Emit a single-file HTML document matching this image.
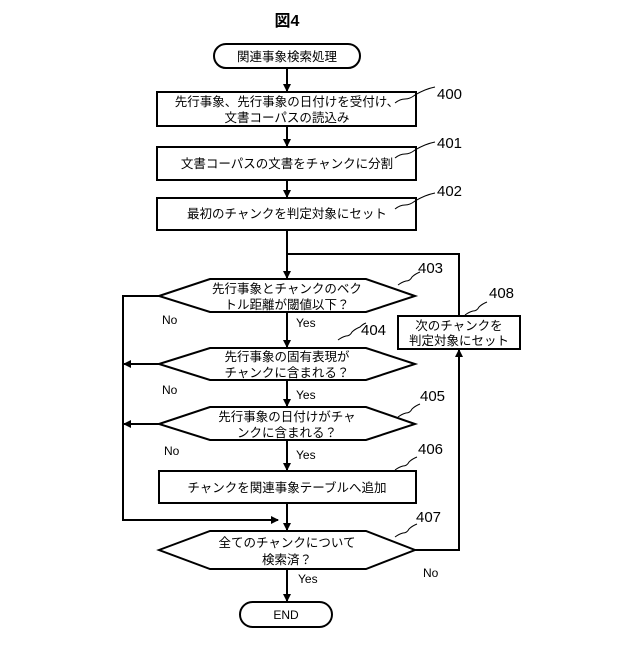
<!DOCTYPE html>
<html><head><meta charset="utf-8"><style>
body{margin:0;background:#fff;}
svg text{font-family:"Liberation Sans","Noto Sans CJK JP",sans-serif;fill:#000;}
</style></head><body>
<svg width="640" height="640" viewBox="0 0 640 640" xmlns="http://www.w3.org/2000/svg">
<defs><marker id="a" markerWidth="8" markerHeight="8" refX="7" refY="4" orient="auto" markerUnits="userSpaceOnUse"><path d="M0,0 L8,4 L0,8 z" fill="#000"/></marker></defs>
<g stroke="#000" stroke-width="2" fill="none">
<text x="287" y="26" font-size="16" text-anchor="middle" stroke="none" font-weight="bold">図4</text>
<rect x="214" y="44" width="146" height="24" rx="12"/>
<line x1="287" y1="68" x2="287" y2="91" marker-end="url(#a)"/>
<rect x="157" y="92" width="259" height="34"/>
<line x1="287" y1="126" x2="287" y2="146" marker-end="url(#a)"/>
<rect x="157" y="147" width="259" height="33"/>
<line x1="287" y1="180" x2="287" y2="197" marker-end="url(#a)"/>
<rect x="157" y="198" width="259" height="32"/>
<line x1="287" y1="230" x2="287" y2="278" marker-end="url(#a)"/>
<polyline points="459,316 459,254 287,254"/>
<polygon points="159,296 210,279 366,279 415,296 366,312 210,312"/>
<line x1="287" y1="312" x2="287" y2="347" marker-end="url(#a)"/>
<polygon points="159,364 210,348 366,348 415,364 366,380 210,380"/>
<line x1="287" y1="380" x2="287" y2="406" marker-end="url(#a)"/>
<polygon points="159,424 210,407 366,407 415,424 366,440 210,440"/>
<line x1="287" y1="440" x2="287" y2="470" marker-end="url(#a)"/>
<rect x="159" y="471" width="257" height="32"/>
<line x1="287" y1="503" x2="287" y2="530" marker-end="url(#a)"/>
<polyline points="159,296 123,296 123,520 278,520" marker-end="url(#a)"/>
<line x1="159" y1="364" x2="124" y2="364" marker-end="url(#a)"/>
<line x1="159" y1="424" x2="124" y2="424" marker-end="url(#a)"/>
<polygon points="159,550 210,531 366,531 415,550 366,569 210,569"/>
<polyline points="415,550 459,550 459,350" marker-end="url(#a)"/>
<rect x="398" y="316" width="122" height="33"/>
<line x1="287" y1="569" x2="287" y2="601" marker-end="url(#a)"/>
<rect x="240" y="602" width="92" height="25" rx="12.5"/>
<g stroke-width="1">
<path d="M395,103 q5,-4 10,-4 q5,0 10,-4 q5,-3 10,-5 q5,-2 10,-3"/>
<path d="M395,158 q5,-4 10,-4 q5,0 10,-4 q5,-3 10,-5 q5,-2 10,-3"/>
<path d="M395,209 q5,-4 10,-4 q5,0 10,-4 q5,-3 10,-5 q5,-2 10,-3"/>
<path d="M398,285 q4,-3 8,-4 q4,0 6,-4 q3,-3 8,-5"/>
<path d="M338,340 q4,-3 8,-4 q4,0 6,-4 q3,-3 8,-5 q3,-3 6,-4"/>
<path d="M398,417 q4,-3 8,-4 q4,0 6,-4 q3,-3 8,-5"/>
<path d="M395,470 q4,-3 8,-4 q4,0 6,-4 q3,-3 8,-5"/>
<path d="M395,537 q4,-3 8,-4 q4,0 6,-4 q3,-3 8,-5"/>
<path d="M465,315 q4,-3 8,-4 q4,0 6,-4 q3,-3 8,-5"/>
</g>
</g>
<g font-size="12.5" text-anchor="middle">
<text x="287" y="61">関連事象検索処理</text>
<text x="287" y="106">先行事象、先行事象の日付けを受付け、</text>
<text x="287" y="122">文書コーパスの読込み</text>
<text x="287" y="168">文書コーパスの文書をチャンクに分割</text>
<text x="287" y="218">最初のチャンクを判定対象にセット</text>
<text x="287" y="293">先行事象とチャンクのベク</text>
<text x="287" y="309">トル距離が閾値以下？</text>
<text x="287" y="361">先行事象の固有表現が</text>
<text x="287" y="377">チャンクに含まれる？</text>
<text x="287" y="421">先行事象の日付けがチャ</text>
<text x="287" y="437">ンクに含まれる？</text>
<text x="287" y="492">チャンクを関連事象テーブルへ追加</text>
<text x="287" y="547">全てのチャンクについて</text>
<text x="287" y="564">検索済？</text>
<text x="459" y="330">次のチャンクを</text>
<text x="459" y="345">判定対象にセット</text>
</g>
<g font-size="12">
<text x="286" y="619" text-anchor="middle">END</text>
<text x="162" y="324">No</text>
<text x="162" y="394">No</text>
<text x="164" y="455">No</text>
<text x="423" y="577">No</text>
<text x="296" y="327">Yes</text>
<text x="296" y="399">Yes</text>
<text x="296" y="459">Yes</text>
<text x="298" y="583">Yes</text>
</g>
<g font-size="15">
<text x="437" y="99">400</text>
<text x="437" y="148">401</text>
<text x="437" y="196">402</text>
<text x="418" y="273">403</text>
<text x="361" y="335">404</text>
<text x="420" y="401">405</text>
<text x="418" y="454">406</text>
<text x="416" y="522">407</text>
<text x="489" y="298">408</text>
</g>
</svg>
</body></html>
